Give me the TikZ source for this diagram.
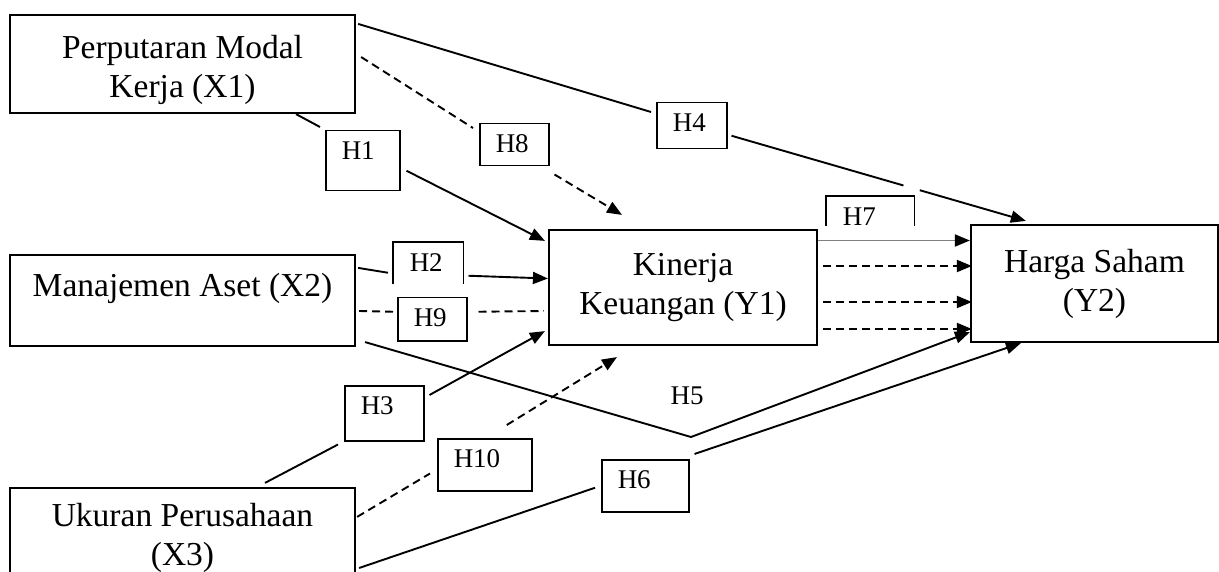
\documentclass[tikz,border=0pt]{standalone}
\usepackage{fontspec}
\setmainfont{Liberation Serif}
\usetikzlibrary{arrows.meta}

\begin{document}
\begin{tikzpicture}[x=1pt,y=-1pt,
    >={Triangle[length=15pt,width=12pt]},
    varbox/.style={draw,line width=2.2pt,inner sep=0pt,align=center,
        font=\fontsize{33.5}{39}\selectfont},
    hbox/.style={draw,line width=1.5pt,anchor=north west,inner xsep=16pt,
        inner ysep=11pt,text height=18pt,align=left,
        font=\fontsize{27}{32}\selectfont},
    link/.style={line width=1.9pt},
    dashlink/.style={line width=1.9pt,dash pattern=on 8pt off 5pt}]
    \useasboundingbox (0,0) rectangle (1219,572);
    \clip (0,0) rectangle (1219,572);

    % Draw the variables
    \node[varbox,minimum width=345pt,minimum height=98pt] (X1) at (182.5,64) {\rule{0pt}{35pt}Perputaran Modal\\Kerja (X1)};
    \node[varbox,minimum width=345pt,minimum height=91pt,text height=23pt,text depth=30pt] (X2) at (182.5,300.5) {Manajemen Aset (X2)};
    \node[varbox,minimum width=345pt,minimum height=100pt] (X3) at (182.5,538) {Ukuran Perusahaan\\(X3)};
    \node[varbox,minimum width=268pt,minimum height=115pt] (Y1) at (683,287.5) {Kinerja\\Keuangan (Y1)};
    \node[varbox,minimum width=247pt,minimum height=117pt] (Y2) at (1094.5,283.5) {Harga Saham\\(Y2)};

    % Draw the hypotheses
    \node[hbox,text width=42pt,text depth=20pt] (H1) at (325,130) {H1};
    \node[hbox,text width=37pt,text depth=1pt,draw=none] (H2) at (393,242) {H2};
    \node[hbox,text width=47pt,text depth=15pt] (H3) at (344,385) {H3};
    \node[hbox,text width=38pt,text depth=6pt] (H4) at (656,102) {H4};
    \node[font=\fontsize{27}{32}\selectfont] (H5) at (687,396) {H5};
    \node[hbox,text width=55pt,text depth=12pt] (H6) at (601,459) {H6};
    \node[hbox,text width=55pt,text depth=0pt,draw=none] (H7) at (826,196) {H7};
    \node[hbox,text width=37pt,text depth=2pt] (H8) at (479,123) {H8};
    \node[hbox,text width=37pt,text depth=3pt] (H9) at (397,297) {H9};
    \node[hbox,text width=62pt,text depth=12pt] (H10) at (437,438) {H10};
    \coordinate (v5) at (691,437);

    % Draw the open boxes
    \draw[line width=1.5pt] (H2.south west) |- (H2.north east) -- (H2.south east);
    \draw[line width=1.5pt] ([yshift=11pt]H7.south west) |- (H7.north east) -- ([yshift=11pt]H7.south east);

    % Draw the direct paths
    \draw[link] ([shift={(113.5,0)}]X1.south) -- ([shift={(-5,-3)}]H1.north west);
    \draw[link,->] ([shift={(6,10)}]H1.east) -- ([shift={(-3,12)}]Y1.north west);
    \draw[link] ([shift={(2,14)}]X2.north east) -- ([shift={(-5,9.5)}]H2.west);
    \draw[link,->] ([shift={(5,12.5)}]H2.east) -- ([shift={(0,-9)}]Y1.west);
    \draw[link] ([shift={(82.5,-4)}]X3.north) -- ([shift={(-6,3)}]H3.south west);
    \draw[link,->] ([shift={(5,10)}]H3.north east) -- ([shift={(-3,-15)}]Y1.south west);
    \draw[link] ([shift={(2,10)}]X1.north east) -- ([shift={(-5,10)}]H4.north west);
    \draw[link,->,dash pattern=on 179pt off 17pt on 300pt] ([shift={(4,10)}]H4.east) -- ([shift={(56,-3)}]Y2.north west);
    \draw[link,->] ([shift={(9,-5)}]X2.south east) -- (v5) -- ([shift={(0,-11)}]Y2.south west);
    \draw[link] ([shift={(3,30)}]X3.east) -- ([shift={(-6,2)}]H6.west);
    \draw[link,->] ([shift={(5,-5)}]H6.north east) -- ([shift={(51,0)}]Y2.south west);
    \draw[link,draw=black!50,-{Triangle[length=15pt,width=12pt,color=black]}] ([shift={(0,-47)}]Y1.east) -- ([shift={(0,-43)}]Y2.west);

    % Draw the mediated paths
    \draw[dashlink] ([shift={(5,-7)}]X1.east) -- ([shift={(-6,5)}]H8.north west);
    \draw[dashlink,->] ([shift={(5,8)}]H8.south east) -- ([shift={(-61,-14)}]Y1.north);
    \draw[dashlink] ([shift={(3,10.5)}]X2.east) -- ([shift={(-4,-7.5)}]H9.west);
    \draw[dashlink] ([shift={(11,-7.5)}]H9.east) -- ([shift={(-4,23.5)}]Y1.west);
    \draw[dashlink] ([shift={(1,30)}]X3.north east) -- ([shift={(-7,-18)}]H10.south west);
    \draw[dashlink,->] ([shift={(22,-13)}]H10.north) -- ([shift={(-66,11)}]Y1.south);
    \foreach \dy in {-21.5,14.5,41.5}
        \draw[dashlink,->] ([shift={(5,\dy)}]Y1.east) -- ([shift={(2,{\dy+4})}]Y2.west);
\end{tikzpicture}
\end{document}
